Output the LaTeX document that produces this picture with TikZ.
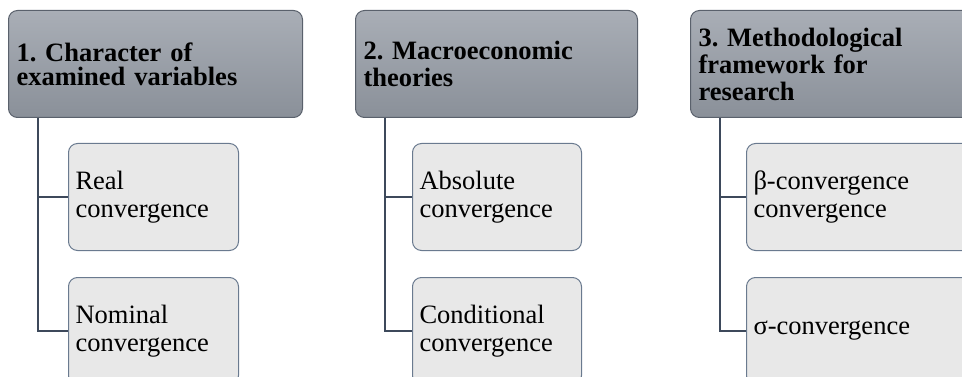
\documentclass[tikz,border=0pt]{standalone}
\usepackage{fontspec}
\setmainfont{Liberation Serif}
\frenchspacing
\definecolor{headtop}{HTML}{A9AEB6}
\definecolor{headbot}{HTML}{8A9099}
\definecolor{headline}{HTML}{5A616C}
\definecolor{itemfill}{HTML}{E8E8E8}
\definecolor{itemline}{HTML}{6A7A8F}
\definecolor{treeline}{HTML}{3D495B}

\begin{document}
\begin{tikzpicture}[x=1pt, y=-1pt,
    head/.style={draw=headline, line width=1pt, rounded corners=9pt,
      top color=headtop, bottom color=headbot, anchor=north west,
      minimum height=107pt, inner xsep=8pt, inner ysep=0pt, text width=#1,
      align=left, font=\fontsize{26.5}{27}\selectfont\bfseries},
    item/.style={draw=itemline, line width=1pt, rounded corners=9pt,
      fill=itemfill, anchor=north west, minimum height=107pt,
      inner xsep=7pt, inner ysep=0pt, text width=#1, align=left,
      font=\fontsize{26.5}{28}\selectfont},
    tree/.style={draw=treeline, line width=2.5pt}]
    \path[use as bounding box, clip] (0, 0) rectangle (962, 377);
    % headers
    \node[head=278pt, font=\fontsize{26.5}{24}\selectfont\bfseries] (h1) at (8, 10)
      {1. Character of\\examined variables};
    \node[head=266pt] (h2) at (355, 10) {2. Macroeconomic\\theories};
    \node[head=266pt] (h3) at (690, 10) {3. Methodological\\framework for\\research};
    % items
    \node[item=156pt] (c11) at (68, 143) {Real\\convergence};
    \node[item=156pt] (c12) at (68, 277) {Nominal\\convergence};
    \node[item=155pt] (c21) at (412, 143) {Absolute\\convergence};
    \node[item=155pt] (c22) at (412, 277) {Conditional\\convergence};
    \node[item=215pt] (c31) at (746, 143) {β-convergence\\convergence};
    \node[item=215pt] (c32) at (746, 277) {σ-convergence};
    % tree lines
    \foreach \h/\a/\b in {h1/c11/c12, h2/c21/c22, h3/c31/c32}
      \draw[tree] ([xshift=30pt]\h.south west) |- (\b.west)
        ([xshift=30pt]\h.south west) |- (\a.west);
  \end{tikzpicture}
\end{document}
